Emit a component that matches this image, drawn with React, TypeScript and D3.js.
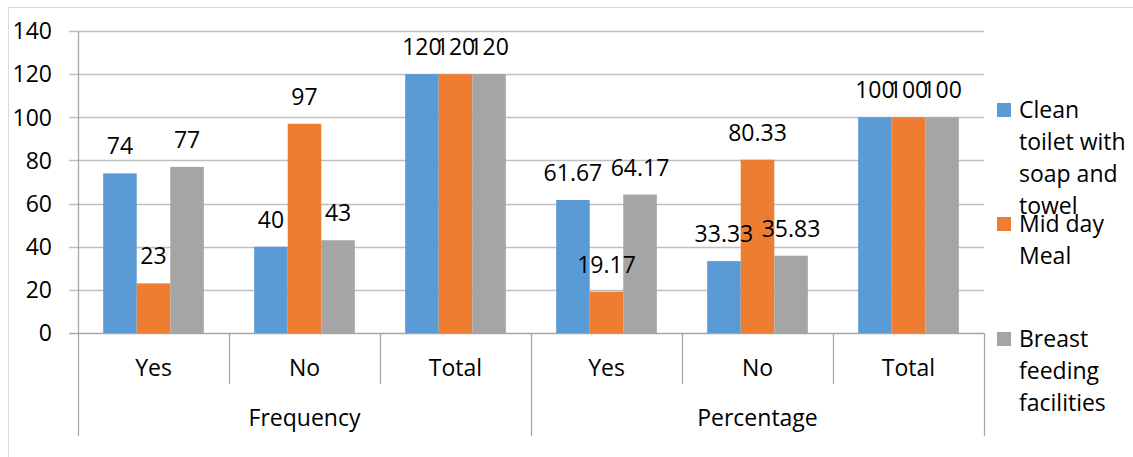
import React from "react";
import * as d3 from "d3";

// Category axis: inner labels with their outer group
const categories = ["Yes", "No", "Total", "Yes", "No", "Total"];
const groups = ["Frequency", "Percentage"];
const groupSizes = [3, 3];

const seriesNames = ["Clean toilet with soap and towel", "Mid day Meal", "Breast feeding facilities"];
const legendLines = [
  ["Clean", "toilet with", "soap and", "towel"],
  ["Mid day", "Meal"],
  ["Breast", "feeding", "facilities"],
];
const seriesColors = ["#5B9BD5", "#ED7D31", "#A5A5A5"];

const cleanToilet = [74, 40, 120, 61.67, 33.33, 100];
const midDayMeal = [23, 97, 120, 19.17, 80.33, 100];
const breastFeeding = [77, 43, 120, 64.17, 35.83, 100];
const seriesValues = [cleanToilet, midDayMeal, breastFeeding];

const yTicks = [0, 20, 40, 60, 80, 100, 120, 140];

const FONT = "'Open Sans', sans-serif";
const FS = 23;

export default function App() {
  const W = 1133;
  const H = 457;
  const left = 78;
  const right = 984;
  const top = 31;
  const bottom = 333;

  const x0 = d3.scaleBand<number>().domain(d3.range(categories.length)).range([left, right]).padding(0);
  const x1 = d3
    .scaleBand<number>()
    .domain(d3.range(seriesNames.length))
    .range([0, x0.bandwidth()])
    .paddingInner(0)
    .paddingOuter(0.75);
  const y = d3.scaleLinear().domain([0, 140]).range([bottom, top]);

  const axisColor = "#A6A6A6";
  const gridColor = "#BFBFBF";

  // group boundaries (start index of each group)
  const groupStarts: number[] = [];
  let acc = 0;
  groupSizes.forEach((n) => {
    groupStarts.push(acc);
    acc += n;
  });

  return (
    <svg
      width={W}
      height={H}
      style={{ position: "absolute", left: 0, top: 0, background: "#fff" }}
      fontFamily={FONT}
    >
      {/* chart frame */}
      <rect x={8.5} y={7.5} width={W} height={H} fill="none" stroke="#D9D9D9" strokeWidth={1} />

      {/* gridlines and value ticks */}
      {yTicks.map((t) => (
        <g key={t}>
          <line x1={left - 9} x2={right} y1={Math.round(y(t)) + 0.5} y2={Math.round(y(t)) + 0.5} stroke={t === 0 ? axisColor : gridColor} strokeWidth={1.3} />
          <text x={52} y={y(t)} dy="0.36em" textAnchor="end" fontSize={FS} fill="#000">
            {t}
          </text>
        </g>
      ))}
      <line x1={left + 0.5} x2={left + 0.5} y1={top} y2={bottom} stroke={axisColor} strokeWidth={1.3} />

      {/* bars */}
      {seriesValues.map((vals, si) =>
        vals.map((v, ci) => (
          <rect
            key={`${si}-${ci}`}
            x={(x0(ci) as number) + (x1(si) as number)}
            y={y(v)}
            width={x1.bandwidth()}
            height={y(0) - y(v)}
            fill={seriesColors[si]}
          />
        ))
      )}

      {/* data labels */}
      {seriesValues.map((vals, si) =>
        vals.map((v, ci) => (
          <text
            key={`l-${si}-${ci}`}
            x={(x0(ci) as number) + (x1(si) as number) + x1.bandwidth() / 2}
            y={y(v) - 19}
            textAnchor="middle"
            fontSize={FS}
            fill="#000"
          >
            {v}
          </text>
        ))
      )}

      {/* category axis separators */}
      {d3.range(categories.length + 1).map((i) => {
        const xx = i === categories.length ? right : (x0(i) as number);
        const outer = i === categories.length || groupStarts.includes(i);
        return (
          <line
            key={`sep-${i}`}
            x1={Math.round(xx) + 0.5}
            x2={Math.round(xx) + 0.5}
            y1={bottom}
            y2={outer ? 436 : 384}
            stroke={axisColor}
            strokeWidth={1.3}
          />
        );
      })}

      {/* category labels */}
      {categories.map((c, i) => (
        <text
          key={`c-${i}`}
          x={(x0(i) as number) + x0.bandwidth() / 2}
          y={376}
          textAnchor="middle"
          fontSize={FS}
          fill="#000"
        >
          {c}
        </text>
      ))}
      {groups.map((g, gi) => {
        const s = groupStarts[gi];
        const e = s + groupSizes[gi] - 1;
        const cx = ((x0(s) as number) + (x0(e) as number) + x0.bandwidth()) / 2;
        return (
          <text key={`g-${gi}`} x={cx} y={426} textAnchor="middle" fontSize={FS} fill="#000">
            {g}
          </text>
        );
      })}

      {/* legend */}
      {legendLines.map((lines, si) => {
        const base = [118, 232, 347][si];
        return (
          <g key={`lg-${si}`}>
            <rect x={997} y={base - 15} width={14} height={14} fill={seriesColors[si]} />
            {lines.map((ln, li) => (
              <text key={li} x={1019} y={base + li * 32} fontSize={FS} fill="#000">
                {ln}
              </text>
            ))}
          </g>
        );
      })}
    </svg>
  );
}
